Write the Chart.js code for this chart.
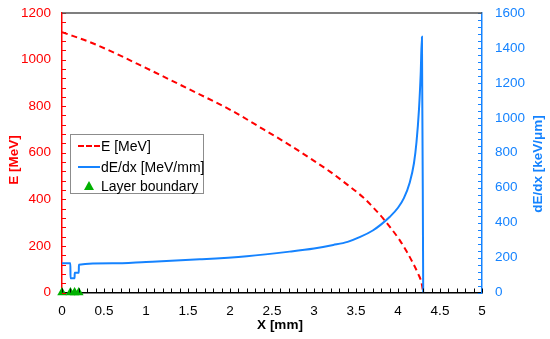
<!DOCTYPE html>
<html>
<head>
<meta charset="utf-8">
<script src="https://cdn.jsdelivr.net/npm/chart.js@4"></script>
<style>
  body { margin: 0; background: #fff; }
  #wrap { position: relative; width: 550px; height: 339px; }
  #legend {
    position: absolute; left: 70px; top: 134px; width: 132px; height: 58px;
    border: 1px solid #8c8c8c; background: #fff;
    font-family: "Liberation Sans", Arial, sans-serif; font-size: 14px; color: #000;
  }
  .row { position: absolute; left: 0; height: 16px; line-height: 16px; white-space: nowrap; }
  .row span.txt { position: absolute; left: 30px; top: 0; }
  .dash { position: absolute; left: 7px; top: 7px; width: 22px; border-top: 2px dashed #ff0000; }
  .solid { position: absolute; left: 7px; top: 7px; width: 22px; border-top: 2px solid #1583ff; }
  .tri { position: absolute; left: 13px; top: 3px; width: 0; height: 0;
    border-left: 5px solid transparent; border-right: 5px solid transparent; border-bottom: 9px solid #00b000; }
</style>
</head>
<body>
<div id="wrap">
  <canvas id="chart" width="550" height="339"></canvas>
  <div id="legend">
    <div class="row" style="top:3px"><div class="dash"></div><span class="txt">E [MeV]</span></div>
    <div class="row" style="top:24px"><div class="solid"></div><span class="txt">dE/dx [MeV/mm]</span></div>
    <div class="row" style="top:43px"><div class="tri"></div><span class="txt">Layer boundary</span></div>
  </div>
</div>
<script>
// energy along the track (left axis)
const xE = [0, 0.38, 1.05, 1.5, 2.02, 2.4, 2.71, 3.0, 3.19, 3.4, 3.58, 3.7, 3.82, 3.92, 4.02, 4.1, 4.18, 4.24, 4.28, 4.3];
const energy = [1118, 1068, 955, 875, 781, 700, 633, 565, 519, 462, 410, 367, 319, 274, 225, 178, 125, 80, 42, 0];

// stopping power (right axis)
const xD = [0, 0.1, 0.101, 0.15, 0.151, 0.2, 0.201, 0.6, 1.0, 1.64, 2.2, 2.71, 3.0, 3.23, 3.4, 3.55, 3.7, 3.8, 3.9, 4.0, 4.07, 4.14, 4.19, 4.22, 4.25, 4.27, 4.285, 4.3];
const dEdx = [167, 167, 81, 81, 113, 113, 159, 167, 175, 190, 208, 234, 252, 272, 290, 318, 355, 390, 432, 485, 540, 630, 740, 860, 1050, 1250, 1464, 0];

// layer boundaries
const xLayers = [0, 0.1, 0.15, 0.2];

const xTicks = [0, 5, 0.5, 0.1];      // min, max, major, minor
const eTicks = [0, 1200, 200, 40];
const dTicks = [0, 1600, 200, 40];

const RED = '#ff0000';
const BLUE = '#1583ff';
const GREEN = '#00b000';
const FONT = '"Liberation Sans", Arial, sans-serif';

const pts = (xs, ys) => xs.map((x, i) => ({ x: x, y: ys[i] }));
const plain = v => String(v);

// inward minor ticks, top frame line and axis titles
const extras = {
  id: 'extras',
  afterDraw(chart) {
    const ctx = chart.ctx;
    const a = chart.chartArea;
    const sx = chart.scales.x, se = chart.scales.yE, sd = chart.scales.yD;
    ctx.save();
    ctx.lineWidth = 1;
    ctx.strokeStyle = '#000';
    ctx.beginPath();
    for (let i = 0; i <= Math.round((xTicks[1] - xTicks[0]) / xTicks[3]); i++) {
      const px = Math.round(sx.getPixelForValue(xTicks[0] + i * xTicks[3])) + 0.5;
      ctx.moveTo(px, a.bottom); ctx.lineTo(px, a.bottom - 4);
    }
    ctx.stroke();
    ctx.strokeStyle = RED;
    ctx.beginPath();
    for (let i = 0; i <= Math.round((eTicks[1] - eTicks[0]) / eTicks[3]); i++) {
      const py = Math.round(se.getPixelForValue(eTicks[0] + i * eTicks[3])) + 0.5;
      ctx.moveTo(a.left, py); ctx.lineTo(a.left + 4, py);
    }
    ctx.stroke();
    ctx.strokeStyle = BLUE;
    ctx.beginPath();
    for (let i = 0; i <= Math.round((dTicks[1] - dTicks[0]) / dTicks[3]); i++) {
      const py = Math.round(sd.getPixelForValue(dTicks[0] + i * dTicks[3])) + 0.5;
      ctx.moveTo(a.right, py); ctx.lineTo(a.right - 4, py);
    }
    ctx.stroke();
    // top frame
    ctx.strokeStyle = '#555';
    ctx.lineWidth = 1.5;
    ctx.beginPath();
    ctx.moveTo(a.left, a.top); ctx.lineTo(a.right, a.top);
    ctx.stroke();

    // titles
    ctx.font = 'bold 13.5px ' + FONT;
    ctx.textAlign = 'center';
    ctx.textBaseline = 'middle';
    ctx.fillStyle = '#000';
    ctx.fillText('X [mm]', 280, 325);
    ctx.save();
    ctx.translate(14, 160);
    ctx.rotate(-Math.PI / 2);
    ctx.fillStyle = RED;
    ctx.fillText('E [MeV]', 0, 0);
    ctx.restore();
    ctx.save();
    ctx.translate(538, 164);
    ctx.rotate(-Math.PI / 2);
    ctx.fillStyle = BLUE;
    ctx.fillText('dE/dx [keV/\u03bcm]', 0, 0);
    ctx.restore();
    ctx.restore();
  }
};

const fitY = w => s => { s.width = w; s.paddingTop = 0; s.paddingBottom = 0; };

new Chart(document.getElementById('chart'), {
  type: 'scatter',
  data: {
    datasets: [
      {
        label: 'E [MeV]',
        data: pts(xE, energy),
        yAxisID: 'yE',
        showLine: true,
        borderColor: RED,
        borderWidth: 2,
        borderDash: [6, 4],
        pointRadius: 0,
        cubicInterpolationMode: 'monotone',
        order: 2
      },
      {
        label: 'dE/dx [MeV/mm]',
        data: pts(xD, dEdx),
        yAxisID: 'yD',
        showLine: true,
        borderColor: BLUE,
        borderWidth: 2,
        pointRadius: 0,
        cubicInterpolationMode: 'monotone',
        order: 1
      },
      {
        label: 'Layer boundary',
        data: xLayers.map(x => ({ x: x, y: 0 })),
        yAxisID: 'yE',
        showLine: false,
        pointStyle: 'triangle',
        pointRadius: 5.5,
        backgroundColor: GREEN,
        borderColor: GREEN,
        borderWidth: 0,
        clip: false,
        order: 0
      }
    ]
  },
  options: {
    responsive: false,
    devicePixelRatio: 1,
    animation: false,
    layout: { padding: { top: 13, left: 0, right: 0, bottom: 0 } },
    plugins: { legend: { display: false }, tooltip: { enabled: false } },
    scales: {
      x: {
        type: 'linear',
        min: xTicks[0], max: xTicks[1],
        afterFit: s => { s.height = 46.5; s.paddingLeft = 0; s.paddingRight = 0; },
        grid: { display: false, drawTicks: false },
        border: { display: true, color: '#000', width: 1.5 },
        ticks: { stepSize: xTicks[2], padding: 11, color: '#000', callback: plain, font: { family: FONT, size: 13.5 } }
      },
      yE: {
        type: 'linear',
        position: 'left',
        min: eTicks[0], max: eTicks[1],
        afterFit: fitY(62),
        grid: { display: false, drawTicks: false },
        border: { display: true, color: RED, width: 1.5 },
        ticks: { stepSize: eTicks[2], padding: 11, color: RED, callback: plain, font: { family: FONT, size: 13.5 } }
      },
      yD: {
        type: 'linear',
        position: 'right',
        min: dTicks[0], max: dTicks[1],
        afterFit: fitY(68),
        grid: { display: false, drawTicks: false },
        border: { display: true, color: BLUE, width: 1.5 },
        ticks: { stepSize: dTicks[2], padding: 13, color: BLUE, callback: plain, font: { family: FONT, size: 13.5 } }
      }
    }
  },
  plugins: [extras]
});
</script>
</body>
</html>
